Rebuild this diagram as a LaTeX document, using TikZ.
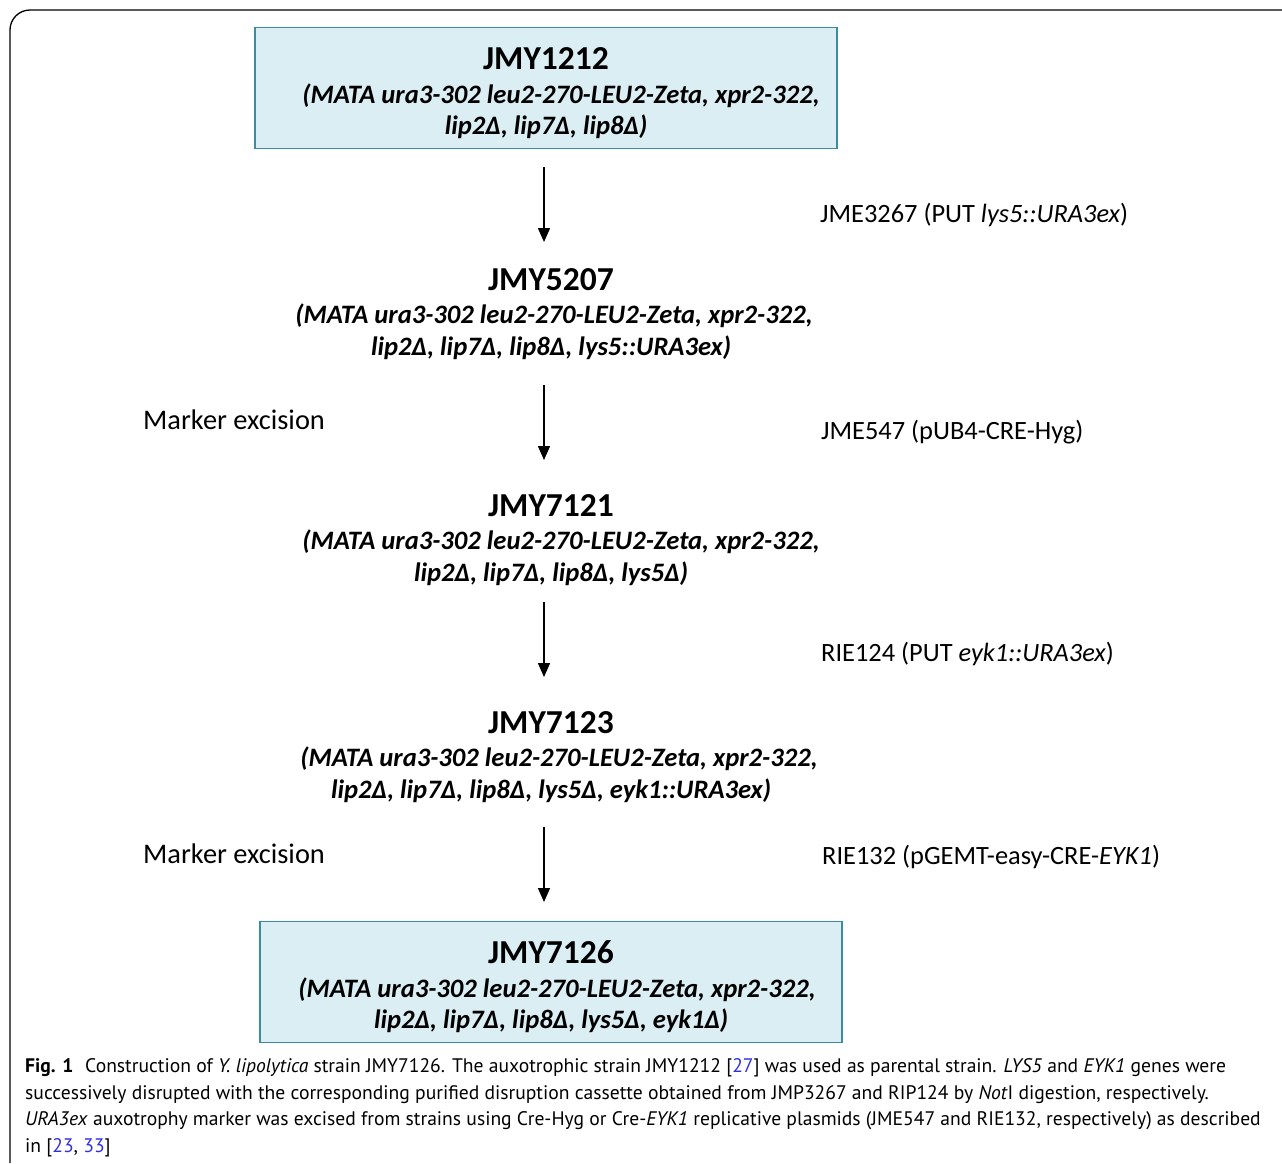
\documentclass[tikz,border=0pt]{standalone}
\usepackage{fontspec}
\setmainfont{Carlito}
\newfontfamily\capfont{PT Sans}
\usetikzlibrary{arrows.meta}
\definecolor{boxfill}{HTML}{DAEEF3}
\definecolor{boxline}{HTML}{3A8CA0}
\definecolor{reflink}{HTML}{3030E0}
\newcommand\strainblock[3]{{\fontsize{33.5}{37}\selectfont\bfseries #1}\\[2pt]
  {\bfseries\itshape #2}\\{\bfseries\itshape #3}}
\begin{document}
\begin{tikzpicture}[x=1pt,y=-1pt,
  strain/.style={align=center,font=\fontsize{26.6}{31.5}\selectfont,inner sep=0pt},
  box/.style={strain,draw=boxline,line width=1.6pt,fill=boxfill,minimum width=582pt,minimum height=121pt},
  side/.style={anchor=west,font=\fontsize{26.4}{28}\selectfont,inner sep=0pt},
  excise/.style={anchor=west,font=\fontsize{28.4}{30}\selectfont,inner sep=0pt},
  arr/.style={line width=1.5pt,-{Triangle[width=12pt,length=14pt]}}]
\useasboundingbox (0,0) rectangle (1282,1163);
\draw[line width=1.3pt,rounded corners=20pt] (10,1163) -- (10,10) -- (1282,10);

\node[box] (b1) at (546,88) {\strainblock{\rule{0pt}{33pt}JMY1212}{\hspace*{30pt}(MATA ura3-302 leu2-270-LEU2-Zeta, xpr2-322,}{lip2Δ, lip7Δ, lip8Δ)}};
\node[strain] (s2) at (551,314) {\strainblock{JMY5207}{\hspace*{6pt}(MATA ura3-302 leu2-270-LEU2-Zeta, xpr2-322,}{lip2Δ, lip7Δ, lip8Δ, lys5::URA3ex)}};
\node[strain] (s3) at (551,540) {\strainblock{JMY7121}{\hspace*{20pt}(MATA ura3-302 leu2-270-LEU2-Zeta, xpr2-322,}{lip2Δ, lip7Δ, lip8Δ, lys5Δ)}};
\node[strain] (s4) at (551,757) {\strainblock{JMY7123}{\hspace*{16pt}(MATA ura3-302 leu2-270-LEU2-Zeta, xpr2-322,}{lip2Δ, lip7Δ, lip8Δ, lys5Δ, eyk1::URA3ex)}};
\node[box] (b5) at (551,982) {\strainblock{\rule{0pt}{33pt}JMY7126}{\hspace*{12pt}(MATA ura3-302 leu2-270-LEU2-Zeta, xpr2-322,}{lip2Δ, lip7Δ, lip8Δ, lys5Δ, eyk1Δ)}};

\coordinate (a1s) at (544,167); \coordinate (a1e) at (544,242);
\coordinate (a2s) at (544,385); \coordinate (a2e) at (544,460);
\coordinate (a3s) at (544,602); \coordinate (a3e) at (544,677);
\coordinate (a4s) at (544,827); \coordinate (a4e) at (544,902);
\draw[arr] (a1s) -- (a1e);
\draw[arr] (a2s) -- (a2e);
\draw[arr] (a3s) -- (a3e);
\draw[arr] (a4s) -- (a4e);

\node[side] (l1) at (820,215) {JME3267 (PUT \textit{lys5::URA3ex})};
\node[side] (l2) at (821,432) {JME547 (pUB4-CRE-Hyg)};
\node[side] (l3) at (821,654) {RIE124 (PUT \textit{eyk1::URA3ex})};
\node[side] (l4) at (822,857) {RIE132 (pGEMT-easy-CRE-\textit{EYK1})};
\node[excise] (m1) at (143,420) {Marker excision};
\node[excise] (m2) at (143,854) {Marker excision};

\node[anchor=north west,align=left,inner sep=0pt,font=\capfont\fontsize{19.6}{26.9}\selectfont] (cap) at (25,1058)
{\textbf{Fig. 1}\hspace{0.6em}Construction of \textit{Y. lipolytica} strain JMY7126. The auxotrophic strain JMY1212 [\textcolor{reflink}{27}] was used as parental strain. \textit{LYS5} and \textit{EYK1} genes were\\
successively disrupted with the corresponding purified disruption cassette obtained from JMP3267 and RIP124 by \textit{Not}I digestion, respectively.\\
\textit{URA3ex} auxotrophy marker was excised from strains using Cre-Hyg or Cre-\textit{EYK1} replicative plasmids (JME547 and RIE132, respectively) as described\\
in [\textcolor{reflink}{23}, \textcolor{reflink}{33}]};
\end{tikzpicture}
\end{document}
